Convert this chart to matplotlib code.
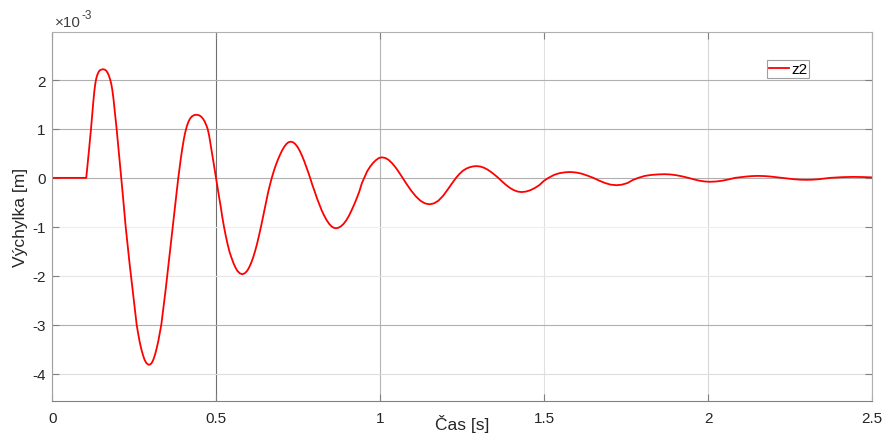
import matplotlib
matplotlib.use('Agg')
import matplotlib.pyplot as plt

plt.rcParams['font.family'] = ['Liberation Sans', 'DejaVu Sans']
plt.rcParams['axes.unicode_minus'] = False

# cas [s] a vychylka z2 [x 1e-3 m]
cas = [
    0.000, 0.103, 0.107, 0.111, 0.1145, 0.1175, 0.121, 0.1245, 0.1275, 0.1305,
    0.1335, 0.137, 0.141, 0.145, 0.150, 0.155, 0.160, 0.164, 0.168, 0.172,
    0.1755, 0.179, 0.1825, 0.186, 0.1905, 0.1957, 0.2005, 0.205, 0.210, 0.2145,
    0.219, 0.2233, 0.2275, 0.2315, 0.2355, 0.2395, 0.244, 0.248, 0.2525, 0.2568,
    0.261, 0.266, 0.271, 0.276, 0.281, 0.286, 0.2905, 0.2944, 0.2985, 0.303,
    0.308, 0.313, 0.318, 0.323, 0.3275, 0.332, 0.3365, 0.341, 0.3455, 0.350,
    0.354, 0.3585, 0.3625, 0.3667, 0.371, 0.375, 0.3795, 0.3838, 0.388, 0.392,
    0.3965, 0.401, 0.405, 0.410, 0.415, 0.420, 0.426, 0.433, 0.440, 0.447,
    0.453, 0.459, 0.4645, 0.469, 0.4734, 0.478, 0.4835, 0.4885, 0.4935, 0.4988,
    0.5035, 0.5085, 0.5135, 0.518, 0.5232, 0.5285, 0.534, 0.540, 0.546, 0.552,
    0.558, 0.564, 0.5715, 0.579, 0.5865, 0.594, 0.600, 0.606, 0.612, 0.618,
    0.624, 0.630, 0.636, 0.6415, 0.647, 0.6525, 0.658, 0.6635, 0.669, 0.675,
    0.681, 0.687, 0.693, 0.700, 0.707, 0.714, 0.720, 0.727, 0.734, 0.741,
    0.748, 0.755, 0.762, 0.768, 0.774, 0.780, 0.786, 0.793, 0.800, 0.807,
    0.814, 0.821, 0.828, 0.836, 0.844, 0.852, 0.859, 0.865, 0.872, 0.880,
    0.888, 0.896, 0.904, 0.912, 0.920, 0.928, 0.936, 0.944, 0.951, 0.960,
    0.969, 0.978, 0.987, 0.996, 1.005, 1.0155, 1.026, 1.0365, 1.047, 1.0575,
    1.068, 1.0817, 1.0953, 1.109, 1.1227, 1.1363, 1.150, 1.1635, 1.177, 1.1905,
    1.204, 1.2175, 1.231, 1.2415, 1.252, 1.2625, 1.273, 1.2835, 1.294, 1.305,
    1.316, 1.327, 1.338, 1.349, 1.360, 1.3718, 1.3837, 1.3955, 1.4073, 1.4192,
    1.431, 1.4447, 1.4583, 1.472, 1.4857, 1.4993, 1.513, 1.530, 1.546, 1.563,
    1.579, 1.597, 1.615, 1.632, 1.650, 1.668, 1.686, 1.703, 1.721, 1.737,
    1.754, 1.770, 1.787, 1.807, 1.827, 1.848, 1.868, 1.886, 1.904, 1.922,
    1.940, 1.957, 1.973, 1.990, 2.006, 2.025, 2.044, 2.063, 2.082, 2.100,
    2.118, 2.135, 2.153, 2.171, 2.189, 2.206, 2.224, 2.243, 2.262, 2.282,
    2.301, 2.319, 2.337, 2.354, 2.372, 2.390, 2.408, 2.425, 2.443, 2.470,
    2.500,
]
z2 = [
    0.000, 0.000, 0.260, 0.540, 0.790, 1.000, 1.280, 1.550, 1.760, 1.920,
    2.030, 2.110, 2.170, 2.200, 2.215, 2.220, 2.210, 2.190, 2.150, 2.090,
    2.020, 1.930, 1.800, 1.620, 1.340, 1.000, 0.660, 0.340, 0.000, -0.340,
    -0.680, -1.000, -1.270, -1.520, -1.770, -2.000, -2.270, -2.500, -2.740, -3.000,
    -3.170, -3.350, -3.500, -3.620, -3.720, -3.780, -3.810, -3.820, -3.810, -3.780,
    -3.710, -3.610, -3.480, -3.330, -3.170, -3.000, -2.760, -2.520, -2.270, -2.000,
    -1.760, -1.500, -1.260, -1.000, -0.740, -0.500, -0.250, 0.000, 0.220, 0.420,
    0.620, 0.800, 0.930, 1.060, 1.150, 1.215, 1.260, 1.285, 1.290, 1.280,
    1.255, 1.210, 1.150, 1.080, 1.000, 0.860, 0.640, 0.430, 0.220, 0.000,
    -0.200, -0.400, -0.600, -0.800, -1.000, -1.180, -1.350, -1.510, -1.630, -1.740,
    -1.830, -1.900, -1.950, -1.970, -1.950, -1.900, -1.830, -1.740, -1.630, -1.500,
    -1.350, -1.180, -1.000, -0.820, -0.640, -0.460, -0.290, -0.140, 0.000, 0.135,
    0.255, 0.360, 0.455, 0.555, 0.636, 0.696, 0.728, 0.740, 0.727, 0.689,
    0.628, 0.544, 0.441, 0.341, 0.232, 0.118, 0.000, -0.150, -0.280, -0.420,
    -0.540, -0.660, -0.760, -0.860, -0.940, -0.996, -1.023, -1.030, -1.020, -0.990,
    -0.940, -0.870, -0.780, -0.670, -0.550, -0.420, -0.280, -0.105, 0.000, 0.135,
    0.230, 0.305, 0.364, 0.406, 0.420, 0.406, 0.364, 0.297, 0.210, 0.109,
    0.000, -0.140, -0.270, -0.382, -0.468, -0.522, -0.540, -0.522, -0.468, -0.375,
    -0.255, -0.125, 0.000, 0.080, 0.145, 0.190, 0.218, 0.235, 0.240, 0.232,
    0.208, 0.170, 0.120, 0.062, 0.000, -0.075, -0.145, -0.205, -0.251, -0.280,
    -0.290, -0.280, -0.251, -0.205, -0.145, -0.060, 0.000, 0.060, 0.095, 0.113,
    0.120, 0.110, 0.085, 0.046, 0.000, -0.057, -0.106, -0.139, -0.150, -0.139,
    -0.106, -0.045, 0.000, 0.040, 0.060, 0.071, 0.075, 0.069, 0.053, 0.029,
    0.000, -0.031, -0.057, -0.074, -0.080, -0.074, -0.057, -0.031, 0.000, 0.015,
    0.028, 0.037, 0.040, 0.037, 0.028, 0.015, 0.000, -0.015, -0.028, -0.037,
    -0.040, -0.037, -0.028, -0.015, 0.000, 0.008, 0.014, 0.018, 0.020, 0.017,
    0.010,
]

x_ticks = [0, 0.5, 1, 1.5, 2, 2.5]
x_tick_labels = ['0', '0.5', '1', '1.5', '2', '2.5']
y_ticks = [-4, -3, -2, -1, 0, 1, 2]

fig = plt.figure(figsize=(8.85, 4.35), dpi=100)
ax = fig.add_axes([0.0593, 0.0759, 0.9260, 0.8481])

ax.plot(cas, z2, color='red', lw=1.3, label='z2')

ax.set_xlim(0, 2.5)
ax.set_ylim(-4.56, 2.98)
ax.set_xticks(x_ticks)
ax.set_xticklabels(x_tick_labels)
ax.set_yticks(y_ticks)

ax.grid(True, color='#c8c8c8', lw=0.8)
# odstiny mrizky jako v puvodnim obrazku
for gl, c in zip(ax.get_xgridlines(), ['#c8c8c8', '#6e6e6e', '#b4b4b4', '#e0e0e0', '#d8d8d8', '#c8c8c8']):
    gl.set_color(c)
for gl, c in zip(ax.get_ygridlines(), ['#dddddd', '#b0b0b0', '#e6e6e6', '#eeeeee', '#b0b0b0', '#b0b0b0', '#b0b0b0']):
    gl.set_color(c)

ax.tick_params(direction='in', length=5, width=0.8, color='#808080',
               labelsize=11, labelcolor='#262626', top=True, right=True)
ax.tick_params(axis='x', pad=7.5)
ax.tick_params(axis='y', pad=5)
for s in ax.spines.values():
    s.set_color('#b0b0b0')
    s.set_linewidth(0.8)
ax.spines['bottom'].set_color('#808080')
ax.spines['left'].set_color('#a0a0a0')

ax.set_xlabel('Čas [s]', fontsize=12.5, color='#262626')
ax.xaxis.set_label_coords(0.5, -0.035)
ax.set_ylabel('Výchylka [m]', fontsize=12.5, color='#262626', labelpad=3)

# exponent nad osou y
t10 = ax.text(0.003, 1.008, '×10', transform=ax.transAxes,
              fontsize=11, color='#404040', ha='left', va='bottom')
ax.annotate('-3', xy=(1.0, 0.55), xycoords=t10, xytext=(0.5, 0), textcoords='offset points',
            fontsize=8.5, color='#404040', ha='left', va='bottom')

leg = ax.legend(loc='upper right', bbox_to_anchor=(0.9235, 0.925), fontsize=11,
                handlelength=1.3, handletextpad=0.1, borderpad=0.15,
                borderaxespad=0, fancybox=False, framealpha=1)
leg.get_frame().set_edgecolor('#a0a0a0')
leg.get_frame().set_linewidth(0.8)

fig.savefig('out.png', dpi=100)
